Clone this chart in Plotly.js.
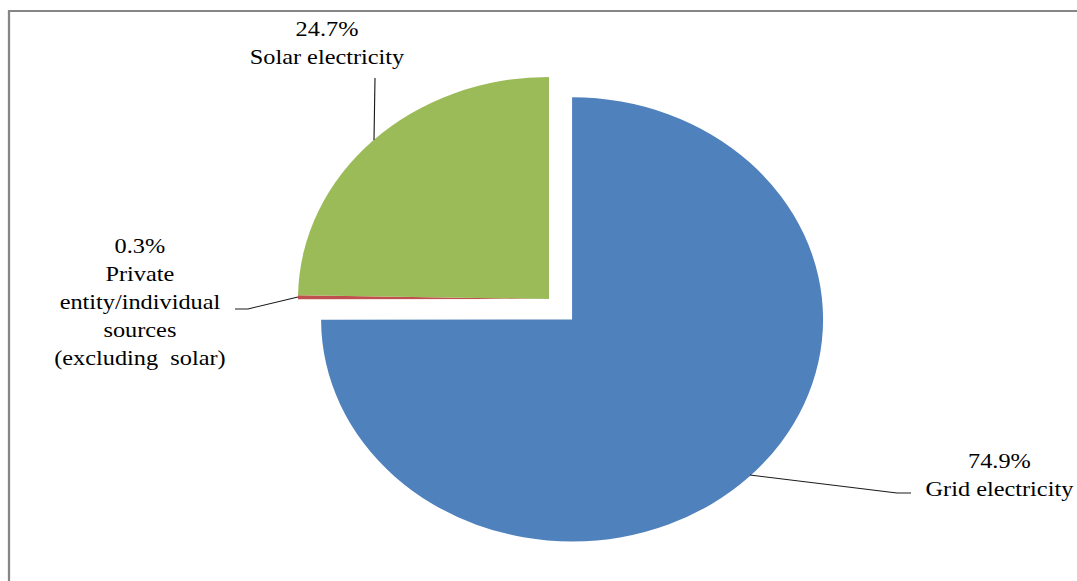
<!DOCTYPE html>
<html>
<head>
<meta charset="utf-8">
<script src="https://cdn.plot.ly/plotly-3.0.1.min.js"></script>
<style>
  html, body { margin: 0; padding: 0; background: #ffffff; overflow: hidden; }
  #wrap { width: 1077px; height: 581px; overflow: hidden; position: relative; }
  #chart { width: 953px; height: 581px; transform: scaleX(1.1301); transform-origin: 0 0; }
</style>
</head>
<body>
<div id="wrap"><div id="chart"></div></div>
<script>
// ---- data ----
var categories = ["Grid electricity", "Private entity/individual sources (excluding solar)", "Solar electricity"];
var shares = [74.9, 0.3, 24.7];
var labelTexts = [
  "74.9%<br>Grid electricity",
  "0.3%<br>Private<br>entity/individual<br>sources<br>(excluding  solar)",
  "24.7%<br>Solar electricity"
];
var sliceColors = ["#4F81BD", "#C0504D", "#9BBB59"];

// ---- helpers: reference-pixel to paper fraction ----
var W = 1077, H = 581;
function fx(px) { return px / W; }
function fy(py) { return 1 - py / H; }

var trace = {
  type: "pie",
  labels: categories,
  values: shares,
  sort: false,
  direction: "clockwise",
  rotation: 0,
  pull: [0.13, 0, 0],
  textinfo: "none",
  hoverinfo: "label+percent",
  marker: { colors: sliceColors, line: { width: 0 } },
  domain: { x: [0.2464, 0.7731], y: [0.0534, 0.9174] },
  showlegend: false
};

var labelFont = { family: "Liberation Serif", size: 21.5, color: "#000000" };
var labelPos = [
  { x: 1000, y: 475 },
  { x: 140, y: 302 },
  { x: 327, y: 43 }
];
var annotations = labelTexts.map(function (t, i) {
  return {
    xref: "paper", yref: "paper",
    x: fx(labelPos[i].x), y: fy(labelPos[i].y),
    xanchor: "center", yanchor: "middle",
    text: t, showarrow: false, align: "center",
    font: labelFont
  };
});

var leaders = [
  [[750, 475], [897, 493], [911, 493]],
  [[235, 309], [248, 309], [298, 297]],
  [[375, 78], [374, 140]]
];
var shapes = [];
leaders.forEach(function (pts) {
  for (var k = 0; k < pts.length - 1; k++) {
    shapes.push({
      type: "line", xref: "paper", yref: "paper",
      x0: fx(pts[k][0]), y0: fy(pts[k][1]),
      x1: fx(pts[k + 1][0]), y1: fy(pts[k + 1][1]),
      line: { color: "#1a1a1a", width: 1 }
    });
  }
});
// chart frame (left and top edges visible)
shapes.push({
  type: "path", xref: "paper", yref: "paper",
  path: "M " + fx(9) + " -0.2 L " + fx(9) + " " + fy(11) + " L 1.2 " + fy(11),
  line: { color: "#868686", width: 2 }
});

var layout = {
  width: 953, height: 581,
  margin: { l: 0, r: 0, t: 0, b: 0, pad: 0 },
  paper_bgcolor: "#ffffff",
  plot_bgcolor: "#ffffff",
  showlegend: false,
  font: { family: "Liberation Serif" },
  annotations: annotations,
  shapes: shapes
};

Plotly.newPlot("chart", [trace], layout, { displayModeBar: false, staticPlot: true });
</script>
</body>
</html>
